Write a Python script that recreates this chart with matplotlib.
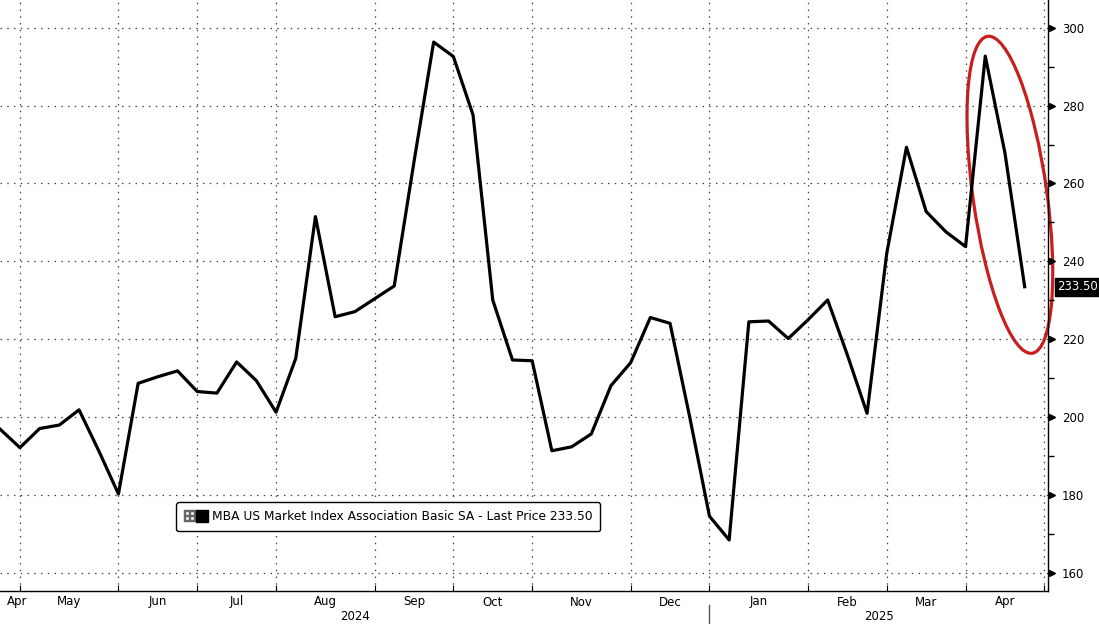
import matplotlib
matplotlib.use('Agg')
import matplotlib.pyplot as plt
from matplotlib.lines import Line2D
from matplotlib.patches import Ellipse
from matplotlib.legend_handler import HandlerTuple
from matplotlib.transforms import ScaledTranslation
import matplotlib.dates as mdates
import numpy as np
import pandas as pd

# weekly MBA market index (week ending Friday)
weeks = pd.date_range('2024-04-26', periods=53, freq='W-FRI')
index_values = [196.9, 192.2, 197.1, 198.0, 201.9, 191.4, 180.3, 208.7, 210.4, 211.9,
                206.6, 206.2, 214.2, 209.4, 201.3, 215.1, 251.5, 225.8, 227.1, 230.4,
                233.7, 265.5, 296.3, 292.6, 277.6, 230.1, 214.7, 214.5, 191.4, 192.4,
                195.7, 208.1, 214.0, 225.6, 224.1, 200.0, 174.6, 168.5, 224.5, 224.7,
                220.2, 225.0, 230.1, 216.0, 201.0, 242.1, 269.3, 252.8, 247.6, 243.8,
                292.7, 267.8, 233.5]
last_price = index_values[-1]
y_ticks = [160, 180, 200, 220, 240, 260, 280, 300]
y_minor = [170, 190, 210, 230, 250, 270, 290]
series_name = 'MBA US Market Index Association Basic SA - Last Price'

plt.rcParams['font.family'] = ['DejaVu Sans']

fig = plt.figure(figsize=(10.99, 6.24), dpi=100)
ax = fig.add_axes([0, 33 / 624, 1048 / 1099, 591 / 624])

ax.plot(weeks, index_values, color='black', lw=2.3, solid_joinstyle='round')

xmin = pd.Timestamp('2024-04-25 22:00')
xmax = pd.Timestamp('2025-05-03 07:00')
ax.set_xlim(xmin, xmax)
ax.set_ylim(155.4, 307.1)

# month boundaries at the first weekly observation of each month
cal = pd.date_range(weeks[0], weeks[-1] + pd.Timedelta(weeks=1), freq='W-FRI')
month_ticks = cal[cal.day <= 7]
ax.set_xticks(month_ticks)
ax.tick_params(axis='x', direction='in', length=4, labelbottom=False, color='black')

grid_kw = dict(color='#444444', lw=0.9, linestyle=(0, (1.2, 4.2)))
ax.grid(True, which='major', axis='both', **grid_kw)

xt = ax.get_xaxis_transform()
ax.annotate(xmin.strftime('%b'), xy=(mdates.date2num(xmin), 0), xycoords=xt,
            xytext=(7, -11), textcoords='offset pixels', ha='left', va='center', fontsize=8.5)
for a, b in zip(month_ticks[:-1], month_ticks[1:]):
    ax.text(a + (b - a) / 2, -11 / 591, a.strftime('%b'), transform=xt,
            ha='center', va='center', fontsize=8.5)

jan = month_ticks[month_ticks.month == 1][0]
ax.text(xmin + (jan - xmin) / 2, -26 / 591, str(xmin.year), transform=xt,
        ha='center', va='center', fontsize=8.5)
ax.text(jan + (xmax - jan) / 2, -26 / 591, str(jan.year), transform=xt,
        ha='center', va='center', fontsize=8.5)
ax.add_line(Line2D([jan, jan], [-14 / 591, -33 / 591], transform=xt, color='#555555',
                   lw=1, clip_on=False))

# right-hand axis
ax.yaxis.tick_right()
ax.set_yticks(y_ticks)
ax.set_yticks(y_minor, minor=True)
ax.tick_params(axis='y', which='major', length=0, pad=10, labelsize=8.5)
ax.tick_params(axis='y', which='minor', direction='out', length=4, width=1)
tri = ax.get_yaxis_transform() + ScaledTranslation(3 / 72, 0, fig.dpi_scale_trans)
ax.plot(np.ones(len(y_ticks)), y_ticks, linestyle='none', marker='>', ms=5,
        color='black', transform=tri, clip_on=False)

for s in ['left', 'top']:
    ax.spines[s].set_visible(False)
for s in ['right', 'bottom']:
    ax.spines[s].set_color('black')
    ax.spines[s].set_linewidth(1)

ax.annotate(f'{last_price:.2f}', xy=(1, last_price), xycoords=ax.get_yaxis_transform(),
            xytext=(9, 0), textcoords='offset pixels', ha='left', va='center',
            color='white', fontsize=8.5,
            bbox=dict(boxstyle='square,pad=0.2', fc='black', ec='black'))

# legend
plus = Line2D([], [], linestyle='none', marker='$\\boxplus$', ms=8, color='#666666',
              markeredgewidth=0.3)
square = Line2D([], [], linestyle='none', marker='s', ms=8.5, color='black')
leg = ax.legend(handles=[(plus, square)], labels=[f'{series_name} {last_price:.2f}'],
                handler_map={tuple: HandlerTuple(ndivide=None, pad=0)},
                loc='lower left', bbox_to_anchor=(0.168, 0.1015), borderaxespad=0,
                fontsize=8.8, handlelength=2.0, handletextpad=0.25, borderpad=0.65,
                fancybox=True, framealpha=1, edgecolor='black')
leg.get_frame().set_linewidth(1)

# highlight around the latest spike
center = pd.Timestamp('2025-04-19 18:00')
ell_tr = fig.dpi_scale_trans + ScaledTranslation(mdates.date2num(center), 257.1, ax.transData)
ax.add_patch(Ellipse((0, 0), width=0.74, height=3.2, angle=8, transform=ell_tr,
                     fill=False, ec='#c81e1e', lw=2.3, clip_on=False))

fig.savefig('out.png', dpi=100, facecolor='white')
